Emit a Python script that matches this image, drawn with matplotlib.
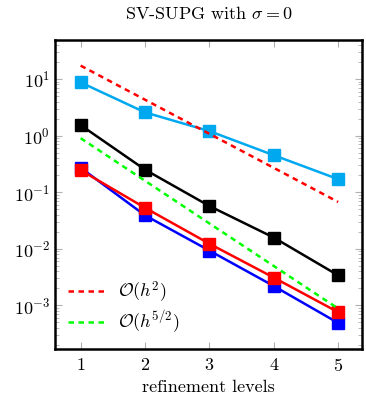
import matplotlib
matplotlib.use("Agg")
import matplotlib.pyplot as plt
import numpy as np

plt.rcParams['font.family'] = 'serif'
plt.rcParams['font.serif'] = ['cmr10']
plt.rcParams['mathtext.fontset'] = 'cm'
plt.rcParams['axes.formatter.use_mathtext'] = True

# data
levels = [1, 2, 3, 4, 5]
err_cyan = [8.7, 2.57, 1.2, 0.45, 0.17]
err_black = [1.53, 0.25, 0.057, 0.0158, 0.0034]
err_red = [0.245, 0.053, 0.0123, 0.0031, 0.00076]
err_blue = [0.27, 0.039, 0.0093, 0.0022, 0.00049]
ref_h2 = [17.2, 4.3, 1.075, 0.269, 0.0672]
ref_h52 = [0.9, 0.159, 0.0281, 0.00497, 0.00088]

fig = plt.figure(figsize=(3.66, 4.03), dpi=100)
ax = fig.add_axes([0.150, 0.134, 0.839, 0.767])

lw = 1.8
ms = 8
ax.plot(levels, err_cyan, '-s', color='#00a8f0', lw=lw, ms=ms)
ax.plot(levels, err_black, '-s', color='black', lw=lw, ms=ms)
ax.plot(levels, err_blue, '-s', color='blue', lw=lw, ms=ms)
ax.plot(levels, err_red, '-s', color='red', lw=lw, ms=ms)
ax.plot(levels, ref_h2, '--', color='red', lw=lw, dashes=(2.2, 1.8),
        label=r'$\mathcal{O}(h^2)$')
ax.plot(levels, ref_h52, '--', color='#00ff00', lw=lw, dashes=(2.2, 1.8),
        label=r'$\mathcal{O}(h^{5/2})$')

ax.set_yscale('log')
ax.set_ylim(1.7e-4, 49)
ax.set_xlim(0.6, 5.37)
ax.set_xticks(levels)
ax.set_yticks([1e-3, 1e-2, 1e-1, 1e0, 1e1])

ax.tick_params(which='both', direction='in', top=True, right=True,
               color='#b0b0b0', labelsize=13)
ax.tick_params(which='major', length=5, width=0.8)
ax.tick_params(which='minor', length=3, width=0.6)
ax.tick_params(axis='x', pad=6)
for s in ax.spines.values():
    s.set_linewidth(1.8)

ax.set_title(r'SV-SUPG with $\sigma = 0$', fontsize=13, pad=15)
ax.set_xlabel('refinement levels', fontsize=13, labelpad=4)

ax.legend(loc='lower left', frameon=False, fontsize=13, handlelength=2.0,
          borderaxespad=0.3, labelspacing=0.2)

fig.savefig('out.png', dpi=100)
